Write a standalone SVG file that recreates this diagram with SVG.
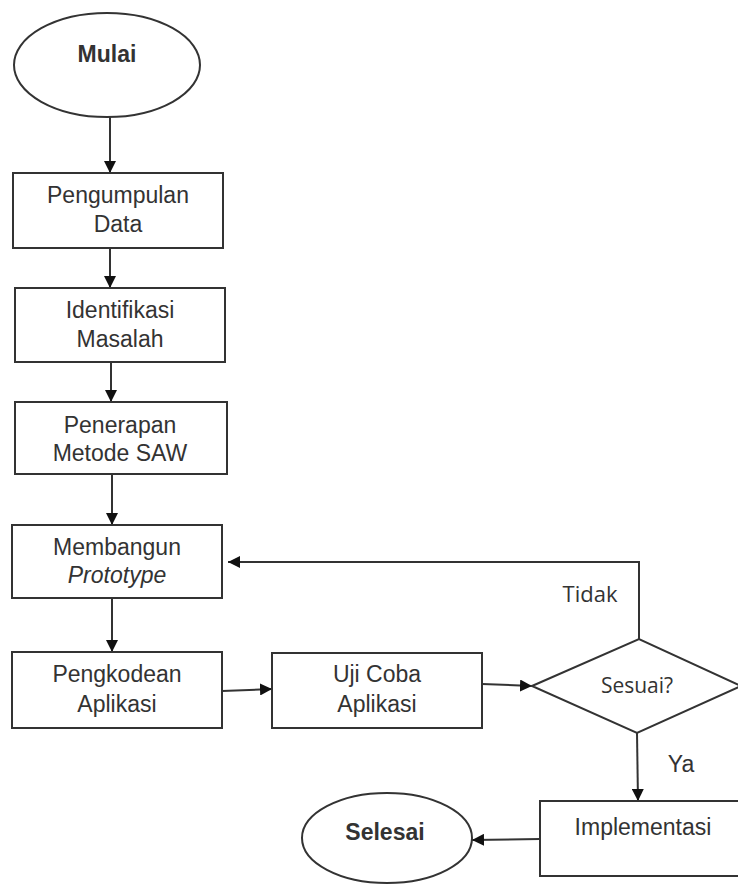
<svg xmlns="http://www.w3.org/2000/svg" width="738" height="887" viewBox="0 0 738 887">
<defs>
<style>
.s{fill:#fff;stroke:#333;stroke-width:2}
.t{font-family:"Liberation Sans",Arial,sans-serif;font-size:23px;fill:#333;text-anchor:middle}
.b{font-weight:bold}
.c{font-family:"Open Sans","Noto Sans",sans-serif;font-size:21px;fill:#333;text-anchor:middle}
.l{fill:none;stroke:#333;stroke-width:2}
</style>
<marker id="ah" viewBox="0 0 10 10" refX="10" refY="5" markerWidth="12" markerHeight="12" markerUnits="userSpaceOnUse" orient="auto"><path d="M0,0L10,5L0,10z" fill="#111"/></marker>
</defs>
<rect width="738" height="887" fill="#fff"/>
<g id="connectors">
<line class="l" x1="110" y1="117" x2="110" y2="173" style="marker-end:url(#ah)"/>
<line class="l" x1="110" y1="248" x2="110" y2="288" style="marker-end:url(#ah)"/>
<line class="l" x1="111" y1="362" x2="111" y2="402" style="marker-end:url(#ah)"/>
<line class="l" x1="112" y1="474" x2="112" y2="525" style="marker-end:url(#ah)"/>
<line class="l" x1="112" y1="598" x2="112" y2="652" style="marker-end:url(#ah)"/>
<line class="l" x1="222" y1="691" x2="272" y2="689" style="marker-end:url(#ah)"/>
<line class="l" x1="482" y1="684" x2="532" y2="686" style="marker-end:url(#ah)"/>
<polyline class="l" points="639,639 639,562 228,562" style="marker-end:url(#ah)"/>
<line class="l" x1="637" y1="733" x2="638" y2="801" style="marker-end:url(#ah)"/>
<line class="l" x1="540" y1="839" x2="472" y2="840" style="marker-end:url(#ah)"/>
<text class="c" x="590" y="602" style="font-size:22px;font-weight:500">Tidak</text>
<text class="t" x="681" y="772">Ya</text>
</g>
<g id="mulai"><ellipse class="s" cx="107" cy="65" rx="93" ry="52"/><text class="t b" x="107" y="62">Mulai</text></g>
<g id="pengumpulan"><rect class="s" x="13" y="173" width="210" height="75"/><text class="t" x="118" y="203">Pengumpulan</text><text class="t" x="118" y="232">Data</text></g>
<g id="identifikasi"><rect class="s" x="15" y="288" width="210" height="74"/><text class="t" x="120" y="318">Identifikasi</text><text class="t" x="120" y="347">Masalah</text></g>
<g id="penerapan"><rect class="s" x="15" y="402" width="212" height="72"/><text class="t" x="120" y="433">Penerapan</text><text class="t" x="120" y="461">Metode SAW</text></g>
<g id="membangun"><rect class="s" x="12" y="525" width="210" height="73"/><text class="t" x="117" y="555">Membangun</text><text class="t" x="117" y="583" font-style="italic">Prototype</text></g>
<g id="pengkodean"><rect class="s" x="12" y="652" width="210" height="76"/><text class="t" x="117" y="682">Pengkodean</text><text class="t" x="117" y="712">Aplikasi</text></g>
<g id="ujicoba"><rect class="s" x="272" y="653" width="210" height="75"/><text class="t" x="377" y="682">Uji Coba</text><text class="t" x="377" y="712">Aplikasi</text></g>
<g id="sesuai"><polygon class="s" points="532,686 639,639 741,686 637,733"/><text class="c" x="637" y="693">Sesuai?</text></g>
<g id="implementasi"><rect class="s" x="540" y="801" width="202" height="75"/><text class="t" x="643" y="835">Implementasi</text></g>
<g id="selesai"><ellipse class="s" cx="387" cy="838" rx="85" ry="45"/><text class="t b" x="385" y="840">Selesai</text></g>
</svg>
